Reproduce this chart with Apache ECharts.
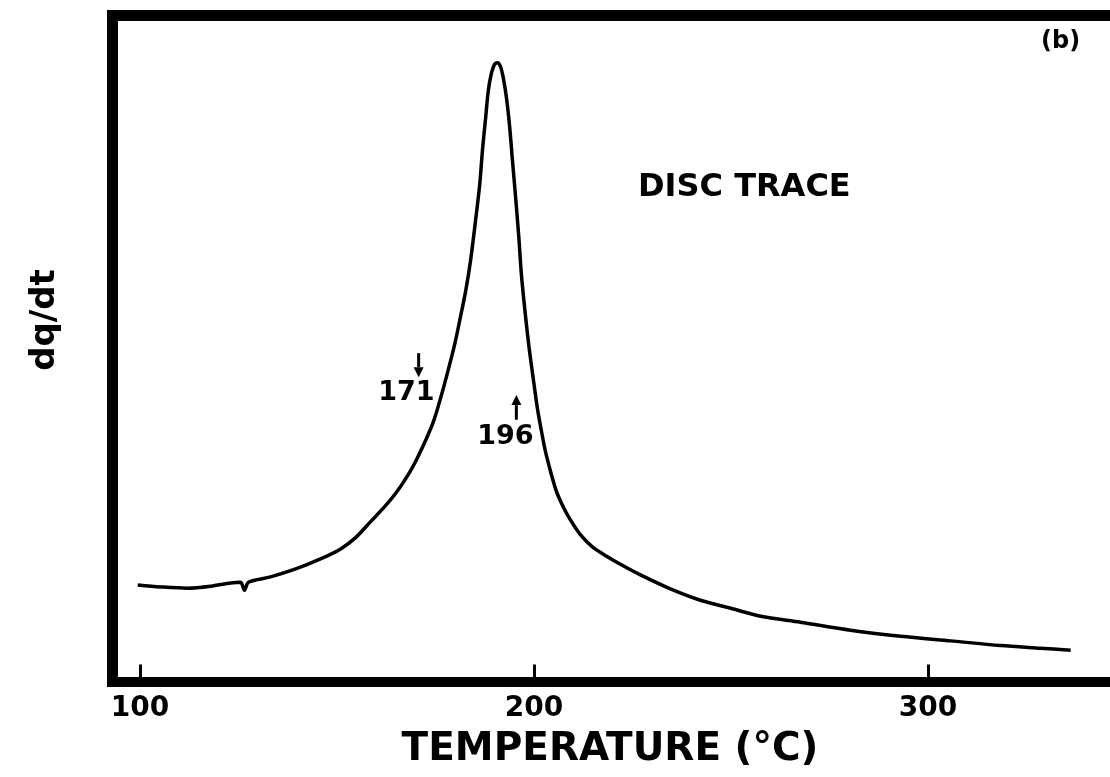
<!DOCTYPE html>
<html><head><meta charset="utf-8">
<script src="https://cdn.jsdelivr.net/npm/echarts@6/dist/echarts.min.js"></script>
<style>html,body{margin:0;padding:0;background:#fff}#c{width:1110px;height:777px}</style>
</head><body><div id="c"></div>
<script>
// Temperature (°C)
const temperature = [99.4, 105.2, 112.0, 117.9, 123.0, 125.5, 126.5, 127.5, 133.1, 139.5, 145.8, 150.9, 154.7, 158.5, 162.3, 165.3, 168.6, 170.4, 172.4, 174.5, 176.3, 178.0, 179.8, 181.3, 182.6, 183.9, 185.1, 186.2, 186.9, 187.7, 188.4, 189.2, 190.0, 190.7, 191.5, 192.2, 193.0, 193.8, 194.5, 195.3, 196.1, 196.8, 197.8, 198.8, 199.9, 200.9, 201.9, 202.9, 204.2, 205.7, 207.5, 209.5, 211.8, 214.8, 218.4, 221.9, 227.0, 234.6, 242.2, 249.9, 257.5, 267.6, 280.3, 293.0, 305.7, 318.4, 328.5, 336.2];
// dq/dt (arbitrary units, 0 = bottom frame, 100 = top frame)
const dqdt = [14.5, 14.2, 14.0, 14.3, 14.8, 14.9, 13.7, 14.9, 15.7, 16.9, 18.4, 19.9, 21.6, 24.0, 26.4, 28.6, 31.6, 33.6, 36.1, 39.1, 42.6, 46.3, 50.5, 54.7, 58.5, 63.3, 69.0, 74.6, 79.8, 84.6, 88.8, 91.4, 92.7, 92.9, 92.3, 90.6, 87.6, 83.3, 78.3, 72.8, 66.9, 61.0, 55.0, 49.8, 45.0, 40.8, 37.5, 34.5, 31.5, 28.5, 26.1, 24.0, 22.0, 20.2, 18.8, 17.6, 16.0, 13.9, 12.2, 11.0, 9.8, 8.9, 7.7, 6.8, 6.1, 5.4, 5.0, 4.7];
const xTickValues = [100, 200, 300];
const xAxisTitle = 'TEMPERATURE (°C)';
const yAxisTitle = 'dq/dt';
const traceLabel = 'DISC TRACE';
const panelLabel = '(b)';
// arrow annotations: label, arrow x, arrow tail y, arrow tip y, text x, text y
const annLabels = ['171', '196'];
const annX = [170.7, 195.5];
const annTail = [49.3, 39.3];
const annTip = [45.7, 43.0];
const annTextX = [167.6, 192.7];
const annTextY = [43.3, 36.7];

const FONT = 'DejaVu Sans';
const chart = echarts.init(document.getElementById('c'));
const data = temperature.map((t, i) => [t, dqdt[i]]);
const XMIN = 93, XMAX = 93 + 997.5 / 3.94;

chart.setOption({
  animation: false,
  backgroundColor: '#fff',
  grid: { left: 112.5, top: 15.5, right: 0, bottom: 95.5, show: false, containLabel: false },
  xAxis: [{
    type: 'value', min: XMIN, max: XMAX, position: 'bottom',
    axisLine: { show: true, lineStyle: { color: '#000', width: 10, cap: 'square' } },
    splitLine: { show: false },
    axisTick: { show: true, inside: true, length: 17, lineStyle: { color: '#000', width: 3 }, customValues: xTickValues },
    axisLabel: { show: true, customValues: xTickValues, margin: 13, color: '#000', fontFamily: FONT, fontWeight: 'bold', fontSize: 28 }
  }, {
    type: 'value', min: XMIN, max: XMAX, position: 'top',
    axisLine: { show: true, lineStyle: { color: '#000', width: 11, cap: 'square' } },
    axisTick: { show: false }, axisLabel: { show: false }, splitLine: { show: false }
  }],
  yAxis: {
    type: 'value', min: 0, max: 100, position: 'left',
    axisLine: { show: true, lineStyle: { color: '#000', width: 11, cap: 'square' } },
    axisTick: { show: false }, axisLabel: { show: false }, splitLine: { show: false }
  },
  series: [{
    type: 'line', data: data, symbol: 'none', smooth: 0.3,
    lineStyle: { color: '#000', width: 3.5 }
  }],
  graphic: [
    { type: 'text', x: 610, y: 750, style: { text: xAxisTitle, fill: '#000', font: 'bold 39px "DejaVu Sans"', align: 'center', verticalAlign: 'middle' } },
    { type: 'text', x: 45, y: 320, rotation: Math.PI / 2, style: { text: yAxisTitle, fill: '#000', font: 'bold 34px "DejaVu Sans"', align: 'center', verticalAlign: 'middle' } },
    { type: 'text', left: 638, top: 172, style: { text: traceLabel, fill: '#000', font: 'bold 32px "DejaVu Sans"' } },
    { type: 'text', left: 1041, top: 30, style: { text: panelLabel, fill: '#000', font: 'bold 24px "DejaVu Sans"' } }
  ]
});

// arrow annotations placed through the axes' scales
const extra = [];
annLabels.forEach((lab, i) => {
  const tail = chart.convertToPixel({ gridIndex: 0 }, [annX[i], annTail[i]]);
  const tip = chart.convertToPixel({ gridIndex: 0 }, [annX[i], annTip[i]]);
  const txt = chart.convertToPixel({ gridIndex: 0 }, [annTextX[i], annTextY[i]]);
  const dir = tip[1] > tail[1] ? 1 : -1;
  const headLen = 10, headW = 5;
  extra.push({ type: 'line', shape: { x1: tail[0], y1: tail[1], x2: tip[0], y2: tip[1] - dir * headLen }, style: { stroke: '#000', lineWidth: 3 } });
  extra.push({ type: 'polygon', shape: { points: [[tip[0], tip[1]], [tip[0] - headW, tip[1] - dir * headLen], [tip[0] + headW, tip[1] - dir * headLen]] }, style: { fill: '#000' } });
  extra.push({ type: 'text', x: txt[0], y: txt[1], style: { text: lab, fill: '#000', font: 'bold 27px "DejaVu Sans"', align: 'center', verticalAlign: 'middle' } });
});
chart.setOption({ graphic: chart.getOption().graphic[0].elements.concat(extra) });
</script>
</body></html>
